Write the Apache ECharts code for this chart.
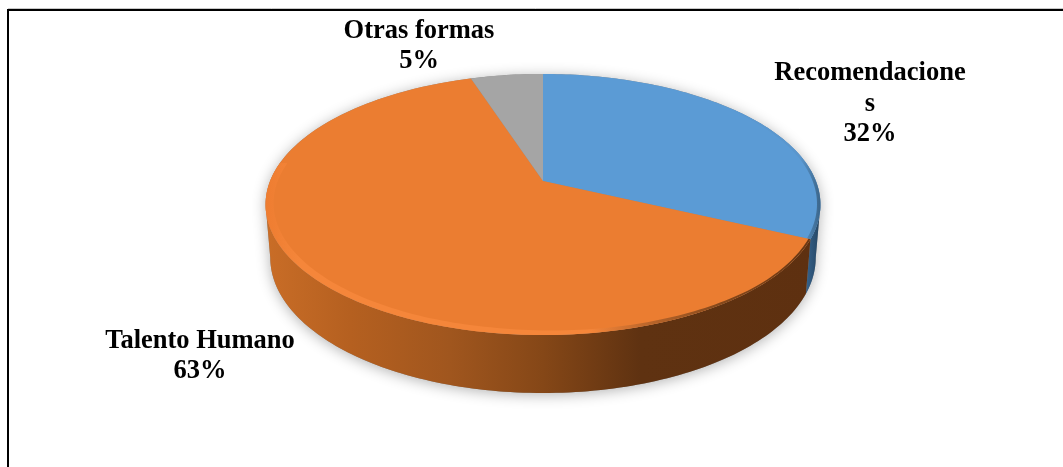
<!DOCTYPE html>
<html><head><meta charset="utf-8">
<style>html,body{margin:0;padding:0;background:#fff}#c{width:1063px;height:467px}</style>
<script src="https://cdn.jsdelivr.net/npm/echarts@6/dist/echarts.min.js"></script>
</head><body><div id="c"></div>
<script>
var categories = ['Recomendaciones', 'Talento Humano', 'Otras formas'];
var shares = [32, 63, 5];
var faceColors = ['#5b9bd5', '#eb7d31', '#a5a5a5'];

// layout of the tilted disc
var CX = 543, CY = 181, A = 272.9, B = 126.3, K = -0.18;
var SIDE_FROM = 100.4 * Math.PI / 180, SIDE_TO = 259.6 * Math.PI / 180;
var labelPos = [[870, 104], [200, 356], [419, 46]];
var total = shares.reduce(function (a, b) { return a + b; }, 0);
function startAngle(i) {
  var s = 0; for (var j = 0; j < i; j++) s += shares[j];
  return s / total * Math.PI * 2;
}
function rim(t, r) {
  var u = r * Math.sin(t), v = -r * Math.cos(t), d = 1 + K * v;
  return [CX + A * u / d, CY + B * v / d];
}
function rimOuter(t) { return rim(t, 1); }
function low(t) {
  var v = -Math.cos(t), p = rim(t, 1);
  return [CX + (p[0] - CX) * 0.983, p[1] + 52 + 6 * v];
}
function arc(f, a, b) {
  var out = [], n = Math.max(2, Math.ceil(Math.abs(b - a) / 0.02));
  for (var i = 0; i <= n; i++) out.push(f(a + (b - a) * i / n));
  return out;
}
function hgrad(stops) {
  return { type: 'linear', global: true, x: 266, y: 0, x2: 821, y2: 0,
    colorStops: stops.map(function (s) { return { offset: (s[0] - 266) / 555, color: s[1] }; }) };
}
var sideFill = [
  hgrad([[800, '#3d6f9e'], [821, '#24435f']]),
  hgrad([[266, '#c96d27'], [350, '#b56020'], [450, '#a0561e'], [543, '#854717'], [640, '#5f3211'], [821, '#5e3010']]),
  '#6b6b6b'
];
var bevelFill = [
  hgrad([[700, '#5b9bd5'], [800, '#5a96cd'], [821, '#3a6488']]),
  hgrad([[266, '#ee7d31'], [300, '#f5863a'], [590, '#f5863a'], [650, '#b9652a'], [720, '#85481b'], [821, '#663512']]),
  '#a5a5a5'
];

function renderShadow(params, api) {
  var pts = arc(low, SIDE_FROM, SIDE_TO).concat(arc(rimOuter, SIDE_TO, SIDE_FROM + Math.PI * 2));
  return { type: 'polygon', shape: { points: pts },
    style: { fill: '#8a8a8a', shadowColor: 'rgba(0,0,0,0.3)', shadowBlur: 14, shadowOffsetY: 2 } };
}
function renderSide(params, api) {
  var i = params.dataIndex, a = startAngle(i), b = a + shares[i] / total * Math.PI * 2;
  var from = Math.max(a, SIDE_FROM), to = Math.min(b, SIDE_TO);
  if (from >= to) return null;
  return { type: 'polygon', shape: { points: arc(low, from, to).concat(arc(rimOuter, to, from)) },
    style: { fill: sideFill[i] } };
}
function renderFace(params, api) {
  var i = params.dataIndex, a = startAngle(i), b = a + shares[i] / total * Math.PI * 2;
  var children = [{
    type: 'polygon',
    shape: { points: [[CX, CY]].concat(arc(rimOuter, a, b)) },
    style: { fill: faceColors[i] }
  }];
  if (i < 2) {
    var ba = i === 0 ? a + 0.9 : a, bb = i === 1 ? a + (b - a) * 0.72 : b;
    var o = arc(rimOuter, ba, bb);
    var n = arc(function (t) {
      var f = i === 0 ? 0.988 : Math.min(0.993, 0.972 + 0.021 * Math.max(0, (Math.PI * 1.05 - t) / 0.9));
      return rim(t, f);
    }, bb, ba);
    children.push({ type: 'polygon', shape: { points: o.concat(n) }, style: { fill: bevelFill[i] } });
  }
  return { type: 'group', children: children };
}
function renderLabel(params, api) {
  var i = params.dataIndex;
  return { type: 'text', x: labelPos[i][0], y: labelPos[i][1],
    style: { text: categories[i] + '\n' + shares[i] + '%', fill: '#000',
      font: 'bold 26.5px "Liberation Serif"', lineHeight: 30.5, align: 'center', verticalAlign: 'middle',
      width: 195, overflow: 'breakAll' } };
}
var idx = categories.map(function (c, i) { return [i, shares[i]]; });
var chart = echarts.init(document.getElementById('c'), null, { renderer: 'canvas' });
chart.setOption({
  animation: false,
  backgroundColor: '#fff',
  tooltip: { show: false },
  graphic: [
    { type: 'line', z: 0, shape: { x1: 8, y1: 8.5, x2: 1063, y2: 8.5 }, style: { stroke: '#c8c8c8', lineWidth: 1 } },
    { type: 'line', z: 0, shape: { x1: 7, y1: 10, x2: 1063, y2: 10 }, style: { stroke: '#000', lineWidth: 2 } },
    { type: 'line', z: 0, shape: { x1: 8, y1: 10, x2: 8, y2: 467 }, style: { stroke: '#000', lineWidth: 2 } }
  ],
  series: [
    { type: 'custom', z: 1, coordinateSystem: 'none', silent: true, data: [[0, total]], renderItem: renderShadow },
    { type: 'custom', z: 2, coordinateSystem: 'none', silent: true, data: idx, renderItem: renderSide },
    { type: 'custom', z: 3, coordinateSystem: 'none', silent: true, data: idx, renderItem: renderFace },
    { type: 'custom', z: 4, coordinateSystem: 'none', silent: true, data: idx, renderItem: renderLabel }
  ]
});
</script></body></html>
